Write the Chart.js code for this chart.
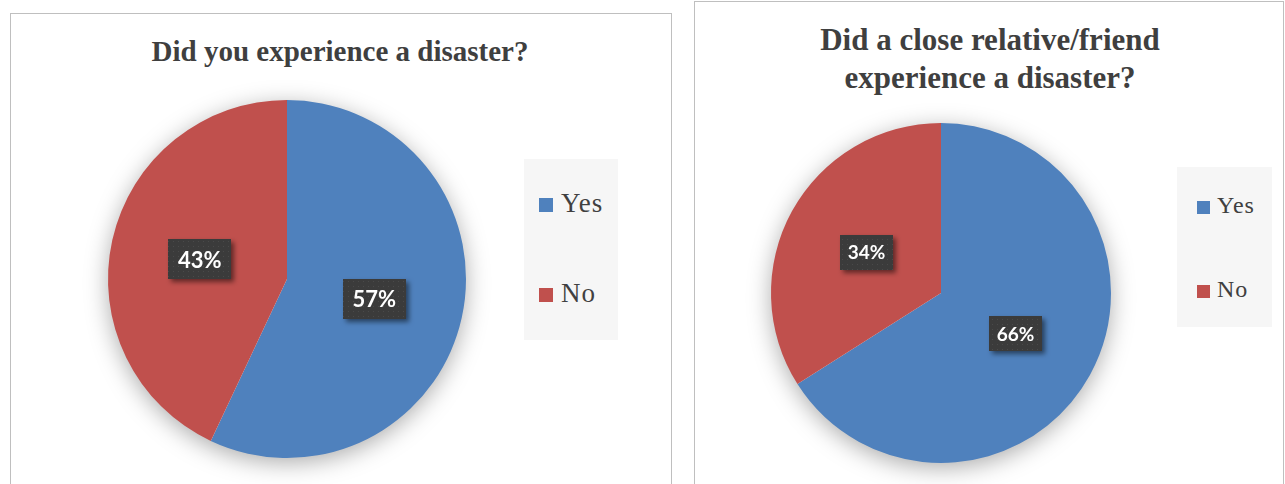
<!DOCTYPE html>
<html>
<head>
<meta charset="utf-8">
<script src="https://cdn.jsdelivr.net/npm/chart.js@4.4.0/dist/chart.umd.min.js"></script>
<style>
    body { margin: 0; width: 1285px; height: 484px; overflow: hidden; background: #fff; position: relative; }
    .panel { position: absolute; border: 1px solid #bfbfbf; background: #fff; box-sizing: border-box; }
    .title { position: absolute; text-align: center; font-family: "Liberation Serif", "Times New Roman", serif; font-weight: bold; color: #3f3f3f; }
    .legend { position: absolute; background: #f6f6f6; }
    .legend .item { position: absolute; font-family: "Liberation Serif", "Times New Roman", serif; color: #404040; white-space: nowrap; letter-spacing: 1px; }
    .legend .box { position: absolute; }
    canvas { position: absolute; }
</style>
</head>
<body>
<div class="panel" style="left:10px; top:13px; width:662px; height:490px;"></div>
<div class="panel" style="left:694px; top:1px; width:590px; height:500px;"></div>

<div class="title" id="title1" style="left:10px; top:37px; width:660px; font-size:29px; line-height:29px;"></div>
<div class="title" id="title2" style="left:695px; top:21px; width:590px; font-size:31px; line-height:38px;"></div>

<div style="position:absolute; left:11px; top:14px; width:660px; height:470px;">
    <canvas id="chart1" width="660" height="470"></canvas>
</div>
<div style="position:absolute; left:695px; top:2px; width:588px; height:482px;">
    <canvas id="chart2" width="588" height="482"></canvas>
</div>

<div class="legend" id="legend1" style="left:524px; top:159px; width:94px; height:181px;"></div>
<div class="legend" id="legend2" style="left:1177px; top:167px; width:95px; height:160px;"></div>

<script>
var labels = ["Yes", "No"];
var selfValues = [57, 43];
var relativeValues = [66, 34];
var colors = ["#4f81bd", "#c0504d"];
var selfTitle = ["Did you experience a disaster?"];
var relativeTitle = ["Did a close relative/friend", "experience a disaster?"];

function setTitle(id, lines) {
    var el = document.getElementById(id);
    lines.forEach(function (t, i) {
        if (i > 0) el.appendChild(document.createElement('br'));
        el.appendChild(document.createTextNode(t));
    });
}
setTitle('title1', selfTitle);
setTitle('title2', relativeTitle);

// legend built from the same labels / colors
function buildLegend(id, opt) {
    var el = document.getElementById(id);
    labels.forEach(function (lab, i) {
        var box = document.createElement('div');
        box.className = 'box';
        box.style.left = opt.boxX + 'px';
        box.style.top = (opt.rows[i] - opt.boxSize / 2) + 'px';
        box.style.width = opt.boxSize + 'px';
        box.style.height = opt.boxSize + 'px';
        box.style.background = colors[i];
        el.appendChild(box);

        var txt = document.createElement('div');
        txt.className = 'item';
        txt.style.left = opt.textX + 'px';
        txt.style.top = (opt.rows[i] - opt.fontSize / 2 - 2) + 'px';
        txt.style.fontSize = opt.fontSize + 'px';
        txt.style.lineHeight = opt.fontSize + 'px';
        txt.textContent = lab;
        el.appendChild(txt);
    });
}
buildLegend('legend1', { boxX: 15, boxSize: 14, textX: 37, fontSize: 27, rows: [46, 136] });
buildLegend('legend2', { boxX: 20, boxSize: 13, textX: 40, fontSize: 24, rows: [40, 124] });

// dotted fill for the label boxes
function dotPattern(ctx) {
    var c = document.createElement('canvas');
    c.width = 5; c.height = 5;
    var p = c.getContext('2d');
    p.fillStyle = '#3b3b3b';
    p.fillRect(0, 0, 5, 5);
    p.fillStyle = '#4a4a4a';
    p.fillRect(2, 2, 1, 1);
    return ctx.createPattern(c, 'repeat');
}

var pieShadow = {
    id: 'pieShadow',
    beforeDatasetsDraw: function (chart) {
        var arc = chart.getDatasetMeta(0).data[0];
        var ctx = chart.ctx;
        ctx.save();
        ctx.shadowColor = 'rgba(0,0,0,0.35)';
        ctx.shadowBlur = 24;
        ctx.shadowOffsetY = 5;
        ctx.fillStyle = '#ffffff';
        ctx.beginPath();
        ctx.arc(arc.x, arc.y, arc.outerRadius - 1, 0, Math.PI * 2);
        ctx.fill();
        ctx.restore();
    }
};

var pctLabels = {
    id: 'pctLabels',
    afterDatasetsDraw: function (chart, args, opts) {
        var ctx = chart.ctx;
        var meta = chart.getDatasetMeta(0);
        var values = chart.data.datasets[0].data;
        meta.data.forEach(function (arc, i) {
            var pos = arc.tooltipPosition();
            var w = opts.boxW, h = opts.boxH;
            ctx.save();
            ctx.shadowColor = 'rgba(0,0,0,0.5)';
            ctx.shadowBlur = 5;
            ctx.shadowOffsetX = 3;
            ctx.shadowOffsetY = 3;
            ctx.fillStyle = dotPattern(ctx);
            ctx.fillRect(Math.round(pos.x - w / 2), Math.round(pos.y - h / 2), w, h);
            ctx.restore();
            ctx.save();
            ctx.fillStyle = '#ffffff';
            ctx.font = 'bold ' + opts.fontSize + 'px Lato, "Open Sans", sans-serif';
            ctx.textAlign = 'center';
            ctx.textBaseline = 'middle';
            ctx.fillText(values[i] + '%', pos.x, pos.y + 1);
            ctx.restore();
        });
    }
};

function makePie(id, values, padding, labelOpts) {
    var ctx = document.getElementById(id).getContext('2d');
    return new Chart(ctx, {
        type: 'pie',
        data: {
            labels: labels,
            datasets: [{
                data: values,
                backgroundColor: colors,
                borderWidth: 0,
                hoverOffset: 0
            }]
        },
        options: {
            responsive: false,
            animation: false,
            layout: { padding: padding },
            plugins: {
                legend: { display: false },
                title: { display: false },
                tooltip: { enabled: false },
                pctLabels: labelOpts
            }
        },
        plugins: [pieShadow, pctLabels]
    });
}

window.onload = function () {
    window.chart1 = makePie('chart1', selfValues,
        { top: 86, bottom: 26, left: 97, right: 205 },
        { boxW: 63, boxH: 40, fontSize: 22 });
    window.chart2 = makePie('chart2', relativeValues,
        { top: 121, bottom: 21, left: 76, right: 172 },
        { boxW: 53, boxH: 35, fontSize: 19 });
};
</script>
</body>
</html>
